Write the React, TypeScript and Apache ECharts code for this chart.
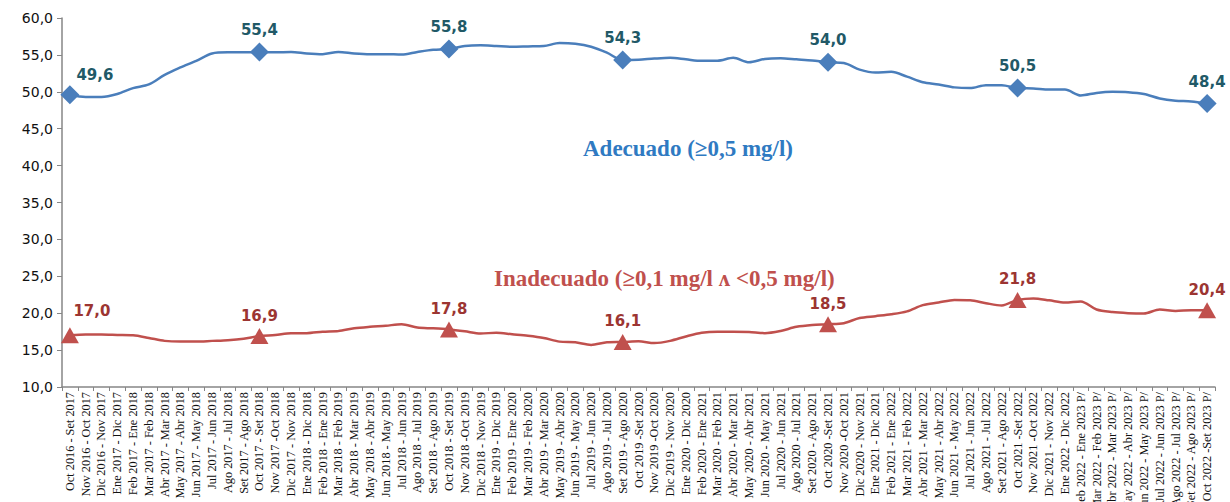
import React, { useEffect, useRef } from "react";
import * as echarts from "echarts";

const categories: string[] = [
  "Oct 2016 - Set 2017", "Nov 2016 - Oct 2017", "Dic 2016 - Nov 2017", "Ene 2017 - Dic 2017",
  "Feb 2017 - Ene 2018", "Mar 2017 - Feb 2018", "Abr 2017 - Mar 2018", "May 2017 - Abr 2018",
  "Jun 2017 - May 2018", "Jul 2017 - Jun 2018", "Ago 2017 - Jul 2018", "Set 2017 - Ago 2018",
  "Oct 2017 - Set 2018", "Nov 2017 -Oct 2018", "Dic 2017 - Nov 2018", "Ene 2018 - Dic 2018",
  "Feb 2018 - Ene 2019", "Mar 2018 - Feb 2019", "Abr 2018 - Mar 2019", "May 2018 - Abr 2019",
  "Jun 2018 - May 2019", "Jul 2018 - Jun 2019", "Ago 2018 - Jul 2019", "Set 2018 - Ago 2019",
  "Oct 2018 - Set 2019", "Nov 2018 -Oct 2019", "Dic 2018 - Nov 2019", "Ene 2019 - Dic 2019",
  "Feb 2019 - Ene 2020", "Mar 2019 - Feb 2020", "Abr 2019 - Mar 2020", "May 2019 - Abr 2020",
  "Jun 2019 - May 2020", "Jul 2019 - Jun 2020", "Ago 2019 - Jul 2020", "Set 2019 - Ago 2020",
  "Oct 2019 -Set 2020", "Nov 2019 -Oct 2020", "Dic 2019 - Nov 2020", "Ene 2020 - Dic 2020",
  "Feb 2020 - Ene 2021", "Mar 2020 - Feb 2021", "Abr 2020 - Mar 2021", "May 2020 - Abr 2021",
  "Jun 2020 - May 2021", "Jul 2020 - Jun 2021", "Ago 2020 - Jul 2021", "Set 2020 - Ago 2021",
  "Oct 2020 -Set 2021", "Nov 2020 -Oct 2021", "Dic 2020 - Nov 2021", "Ene 2021 - Dic 2021",
  "Feb 2021 - Ene 2022", "Mar 2021 - Feb 2022", "Abr 2021 - Mar 2022", "May 2021 - Abr 2022",
  "Jun 2021 - May 2022", "Jul 2021 - Jun 2022", "Ago 2021 - Jul 2022", "Set 2021 - Ago 2022",
  "Oct 2021 -Set 2022", "Nov 2021 -Oct 2022", "Dic 2021 - Nov 2022", "Ene 2022 - Dic 2022",
  "Feb 2022 - Ene 2023 P/", "Mar 2022 - Feb 2023 P/", "Abr 2022 - Mar 2023 P/", "May 2022 - Abr 2023 P/",
  "Jun 2022 - May 2023 P/", "Jul 2022 - Jun 2023 P/", "Ago 2022 - Jul 2023 P/", "Set 2022 - Ago 2023 P/",
  "Oct 2022 -Set 2023 P/",
];

const adecuado: number[] = [
  49.6, 49.3, 49.3, 49.7, 50.5, 51.0, 52.3, 53.3, 54.2, 55.2, 55.35, 55.35,
  55.4, 55.35, 55.4, 55.2, 55.1, 55.4, 55.2, 55.1, 55.1, 55.05, 55.4, 55.7,
  55.8, 56.2, 56.3, 56.2, 56.1, 56.15, 56.2, 56.6, 56.5, 56.1, 55.3, 54.3,
  54.35, 54.5, 54.6, 54.4, 54.2, 54.2, 54.6, 54.0, 54.45, 54.55, 54.4, 54.25,
  54.0, 53.9, 53.0, 52.6, 52.7, 52.05, 51.3, 51.0, 50.6, 50.5, 50.9, 50.9,
  50.5, 50.45, 50.3, 50.3, 49.5, 49.85, 50.0, 49.95, 49.7, 49.1, 48.8, 48.7,
  48.4,
];

const inadecuado: number[] = [
  17.0, 17.1, 17.1, 17.05, 17.0, 16.65, 16.25, 16.15, 16.15, 16.25, 16.35, 16.55,
  16.9, 17.05, 17.3, 17.3, 17.5, 17.6, 17.95, 18.15, 18.3, 18.5, 18.05, 17.95,
  17.8, 17.55, 17.25, 17.35, 17.15, 16.95, 16.65, 16.15, 16.05, 15.7, 16.05, 16.1,
  16.2, 15.95, 16.25, 16.85, 17.35, 17.5, 17.5, 17.45, 17.3, 17.6, 18.15, 18.4,
  18.5, 18.65, 19.35, 19.6, 19.85, 20.25, 21.1, 21.45, 21.8, 21.75, 21.35, 21.05,
  21.8, 22.0, 21.75, 21.45, 21.6, 20.5, 20.15, 20.0, 19.95, 20.5, 20.3, 20.4,
  20.4,
];

const markedIndices: number[] = [0, 12, 24, 35, 48, 60, 72];

const yTicks = { min: 10, max: 60, interval: 5 };

const fmt = (v: number) => v.toFixed(1).replace(".", ",");

export default function App() {
  const ref = useRef<HTMLDivElement>(null);

  useEffect(() => {
    if (!ref.current) return;
    const chart = echarts.init(ref.current, undefined, { renderer: "svg" });

    const buildData = (
      values: number[],
      symbol: string,
      symbolSize: number | number[],
      color: string,
      labelColor: string,
      firstOffset: number[]
    ) =>
      values.map((v, i) => {
        if (!markedIndices.includes(i)) return { value: v };
        return {
          value: v,
          symbol,
          symbolSize,
          itemStyle: { color },
          label: {
            show: true,
            position: "top",
            distance: 5,
            offset: i === 0 ? firstOffset : [0, 0],
            formatter: (p: any) => fmt(p.value),
            color: labelColor,
            fontFamily: "DejaVu Sans",
            fontWeight: "bold",
            fontSize: 15,
          },
        };
      });

    chart.setOption({
      animation: false,
      backgroundColor: "#ffffff",
      grid: {
        left: 62,
        right: 15,
        top: 18,
        bottom: 115,
        containLabel: false,
        outerBoundsMode: "none",
      },
      xAxis: {
        type: "category",
        data: categories,
        boundaryGap: true,
        axisLine: { lineStyle: { color: "#868686", width: 1.5 } },
        axisTick: { show: true, length: 4, interval: 0, lineStyle: { color: "#868686" } },
        axisLabel: {
          interval: 0,
          rotate: 90,
          margin: 5,
          fontFamily: "Liberation Serif",
          fontSize: 12.3,
          color: "#111111",
        },
      },
      yAxis: {
        type: "value",
        min: yTicks.min,
        max: yTicks.max,
        interval: yTicks.interval,
        splitLine: { show: false },
        axisLine: { show: true, lineStyle: { color: "#868686", width: 1.5 } },
        axisTick: { show: true, length: 5, lineStyle: { color: "#868686" } },
        axisLabel: {
          formatter: (v: number) => fmt(v),
          fontFamily: "DejaVu Sans",
          fontSize: 14,
          color: "#111111",
          margin: 9,
        },
      },
      series: [
        {
          name: "Adecuado",
          type: "line",
          smooth: 0.3,
          symbol: "none",
          lineStyle: { color: "#4A7EBB", width: 2.5 },
          itemStyle: { color: "#4A7EBB" },
          data: buildData(adecuado, "diamond", 19, "#4A7EBB", "#215967", [25, 2]),
          z: 3,
        },
        {
          name: "Inadecuado",
          type: "line",
          smooth: 0.3,
          symbol: "none",
          lineStyle: { color: "#C0504D", width: 2.5 },
          itemStyle: { color: "#C0504D" },
          data: buildData(inadecuado, "triangle", [18, 16], "#C0504D", "#9C3532", [22, -4]),
          z: 3,
        },
      ],
      graphic: [
        {
          type: "text",
          left: 583,
          top: 137,
          style: {
            text: "Adecuado (≥0,5 mg/l)",
            fill: "#2F7AC2",
            font: "bold 23px 'Liberation Serif'",
          },
        },
        {
          type: "text",
          left: 494,
          top: 267,
          style: {
            text: "Inadecuado (≥0,1 mg/l ʌ <0,5 mg/l)",
            fill: "#C0504D",
            font: "bold 23px 'Liberation Serif'",
          },
        },
      ],
    });

    return () => chart.dispose();
  }, []);

  return (
    <div
      ref={ref}
      style={{ position: "fixed", left: 0, top: 0, width: 1230, height: 502 }}
    />
  );
}
